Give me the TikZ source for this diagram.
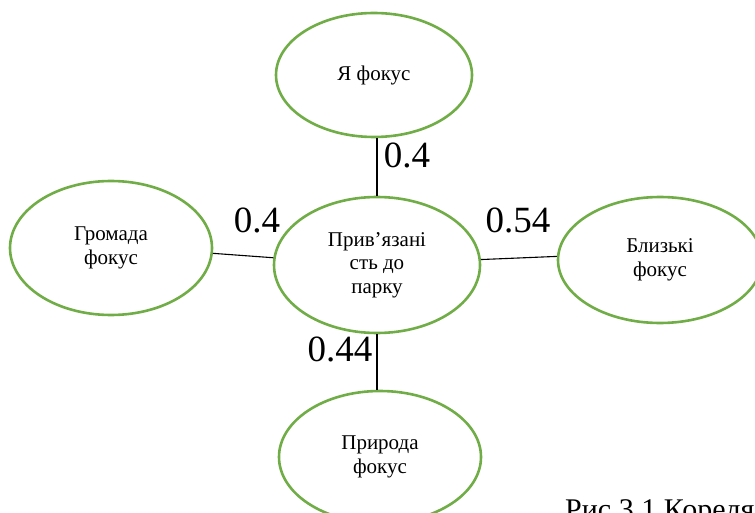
\documentclass[tikz,border=0pt]{standalone}
\usepackage{fontspec}
\setmainfont{Liberation Serif}
\usetikzlibrary{shapes.geometric}
\definecolor{ellgreen}{RGB}{112,173,71}
\tikzset{
  ell/.style={ellipse, draw=ellgreen, line width=2.6pt, inner sep=0pt, align=center,
    font=\fontsize{21}{23.5}\selectfont},
  conn/.style={draw=black, line width=1.1pt},
  val/.style={inner sep=0pt, font=\fontsize{37}{42}\selectfont}
}
\begin{document}
\begin{tikzpicture}[x=1pt,y=-1pt]
\useasboundingbox (0,0) rectangle (755,513);
\node[ell, minimum width=196, minimum height=124] (top) at (374,75) {Я фокус};
\node[ell, minimum width=206, minimum height=136] (mid) at (377,265) {Прив’язані\\сть до\\парку};
\node[ell, minimum width=202, minimum height=134] (left) at (111,248) {Громада\\фокус};
\node[ell, minimum width=204, minimum height=126] (right) at (660,260) {Близькі\\фокус};
\node[ell, minimum width=202, minimum height=132] (bot) at (380,457) {Природа\\фокус};
\draw[conn] (top.south -| mid.north) -- (mid.north);
\draw[conn] (left.-3.4) -- (mid.176);
\draw[conn] (mid.3.3) -- (right.178);
\draw[conn] (mid.south) -- (mid.south |- bot.north);
\node[val] (v1) at (407,155) {0.4};
\node[val] (v2) at (257,220) {0.4};
\node[val] (v3) at (518,220) {0.54};
\node[val] (v4) at (340,349) {0.44};
\node[anchor=base west, inner sep=0pt, font=\fontsize{30}{34}\selectfont] (cap) at (565,519) {Рис 3.1 Кореля};
\end{tikzpicture}
\end{document}
